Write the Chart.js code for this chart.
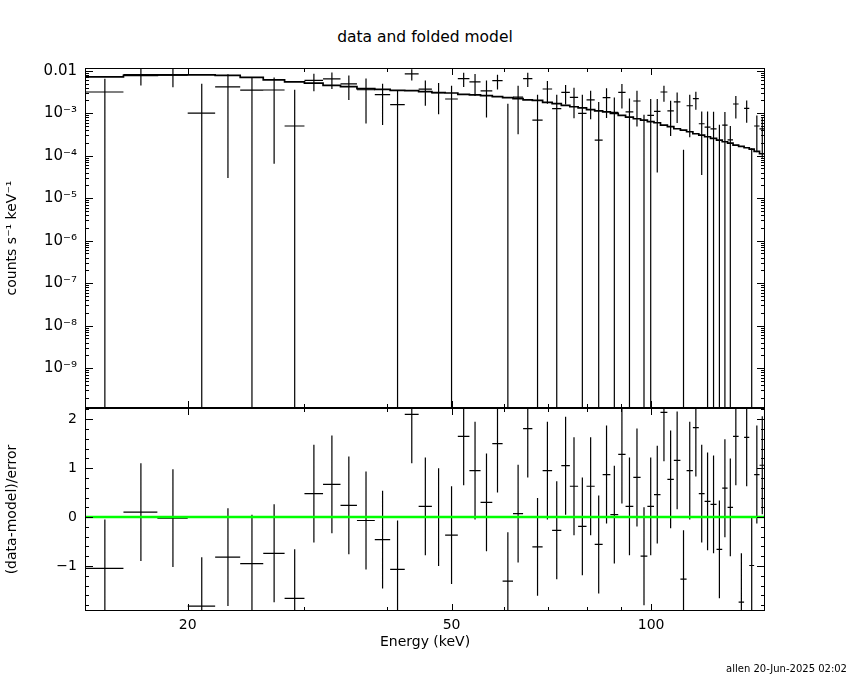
<!DOCTYPE html>
<html>
<head>
<meta charset="utf-8">
<script src="https://cdn.jsdelivr.net/npm/chart.js"></script>
<style>
  body { margin: 0; background: #fff; width: 850px; height: 680px; position: relative; overflow: hidden; font-family: "DejaVu Sans", sans-serif; }
  canvas { position: absolute; left: 0; }
  #top { top: 0; }
  #bot { top: 408px; }
  #title { position: absolute; left: 0; width: 850px; top: 28px; text-align: center; font-size: 15.5px; }
  #stamp { position: absolute; right: 3px; top: 663px; font-size: 10px; }
</style>
</head>
<body>
<div id="title">data and folded model</div>
<canvas id="top" width="850" height="408"></canvas>
<canvas id="bot" width="850" height="272"></canvas>
<div id="stamp">allen 20-Jun-2025 02:02</div>
<script>
// energy bin edges (keV), one more than the number of bins
const binEdges = [14, 16, 18, 20, 22, 24, 26, 28, 30, 32, 34, 36, 38.3, 40.4, 42.5, 44.6, 46.7, 48.9, 51.1, 53.2,
  55.3, 57.6, 59.7, 61.9, 64.1, 66.2, 68.6, 70.9, 73.2, 75.4, 77.6, 79.9, 82.2, 84.5, 86.8, 89.2, 91.5, 94, 96.4,
  98.7, 101, 103.3, 105.8, 108.2, 110.7, 113.1, 115.6, 118, 120.4, 122.9, 125.5, 128, 130.4, 132.9, 135.5, 138.1,
  140.6, 143, 145.7, 148.5];

// counts s^-1 keV^-1
const rate = [3.16e-3, 8.1e-3, 7.9e-3, 1.01e-3, 4.15e-3, 3.5e-3, 3.52e-3, 5.0e-4, 5.9e-3, 6.4e-3,
  4.89e-3, 3.57e-3, 2.73e-3, 1.6e-3, 8.41e-3, 3.7e-3, 3.04e-3, 2.16e-3, 6.52e-3, 5.44e-3,
  3.34e-3, 5.85e-3, -3.8e-4, 2.39e-3, 6.52e-3, 6.9e-4, 3.72e-3, 1.28e-3, 3.1e-3, 2.36e-3,
  9.9e-4, 2.05e-3, 2.33e-4, 2.32e-3, 1.05e-3, 3.1e-3, 1.07e-3, 1.94e-3, -2.37e-4, 8.87e-4,
  1.1e-3, 3.16e-3, 1.13e-3, 1.84e-3, -8.4e-4, 1.5e-3, 2.2e-3, 5.65e-4, 4.73e-4, 4.3e-4,
  -3.54e-4, 5.27e-4, 2.37e-4, 1.65e-3, -3.57e-4, 1.3e-3, -4.51e-4, 5.0e-4, 4.3e-4];

const rateErr = [3.36e-3, 3.6e-3, 3.8e-3, 3.96e-3, 4.12e-3, 3.55e-3, 3.455e-3, 3.08e-3, 2.6e-3, 2.7e-3,
  2.85e-3, 3.0e-3, 2.2e-3, 1.85e-3, 2.5e-3, 2.2e-3, 2.1e-3, 2.3e-3, 2.4e-3, 2.9e-3,
  2.55e-3, 2.25e-3, 2.06e-3, 2.07e-3, 2.4e-3, 2.04e-3, 2.05e-3, 1.45e-3, 1.5e-3, 1.6e-3,
  1.74e-3, 1.33e-3, 1.6e-3, 1.55e-3, 1.3e-3, 1.8e-3, 1.16e-3, 1.45e-3, 1.16e-3, 1.27e-3,
  1.06e-3, 1.3e-3, 8.4e-4, 1.25e-3, 9.78e-4, 1.23e-3, 1.0e-3, 5.3e-4, 6.3e-4, 6.5e-4,
  8.9e-4, 5.4e-4, 2.6e-4, 9.0e-4, 3.0e-4, 7.0e-4, 6.0e-4, 3.8e-4, 3.4e-4];

// folded model
const model = [7.14e-3, 7.79e-3, 7.96e-3, 7.96e-3, 7.79e-3, 6.98e-3, 6.07e-3, 5.44e-3, 5.11e-3, 4.53e-3,
  4.22e-3, 3.78e-3, 3.64e-3, 3.45e-3, 3.40e-3, 3.21e-3, 3.04e-3, 2.99e-3, 2.77e-3, 2.69e-3,
  2.59e-3, 2.45e-3, 2.32e-3, 2.20e-3, 2.05e-3, 2.00e-3, 1.80e-3, 1.68e-3, 1.53e-3, 1.42e-3,
  1.33e-3, 1.21e-3, 1.13e-3, 1.07e-3, 9.89e-4, 8.87e-4, 8.13e-4, 7.41e-4, 6.91e-4, 6.31e-4,
  5.97e-4, 5.27e-4, 4.81e-4, 4.31e-4, 4.02e-4, 3.66e-4, 3.29e-4, 3.06e-4, 2.79e-4, 2.55e-4,
  2.33e-4, 2.13e-4, 1.98e-4, 1.78e-4, 1.65e-4, 1.54e-4, 1.43e-4, 1.26e-4, 1.11e-4];

// (data-model)/error, each with an error of 1
const resid = [-1.05, 0.10, -0.02, -1.82, -0.82, -0.95, -0.74, -1.66, 0.48, 0.67,
  0.24, -0.07, -0.46, -1.07, 2.10, 0.22, 0.00, -0.37, 1.65, 0.95,
  0.30, 1.50, -1.31, 0.07, 1.81, -0.61, 0.95, -0.27, 1.05, 0.63,
  -0.19, 0.63, -0.56, 0.87, 0.05, 1.28, 0.22, 0.81, -0.80, 0.22,
  0.46, 2.14, 0.77, 1.16, -1.27, 0.95, 1.83, 0.48, 0.32, 0.26,
  -0.66, 0.59, 0.20, 1.65, -1.74, 1.63, -0.99, 0.87, 1.06];
const RES_ERR = 1;

const xTickVals = [20, 50, 100];
const xTickLabels = ['20', '50', '100'];
const xMinor = [30, 40, 60, 70, 80, 90];
const yTickVals = [1e-9, 1e-8, 1e-7, 1e-6, 1e-5, 1e-4, 1e-3, 1e-2];
const yTickLabels = ['10\u207B\u2079', '10\u207B\u2078', '10\u207B\u2077', '10\u207B\u2076', '10\u207B\u2075', '10\u207B\u2074', '10\u207B\u00B3', '0.01'];
const rTickVals = [-1, 0, 1, 2];
const rTickLabels = ['\u22121', '0', '1', '2'];

const X_MIN = 14, X_MAX = 148.5;
const Y_MIN = 1.15e-10, Y_MAX = 0.0116;
const R_MIN = -1.92, R_MAX = 2.23;
const LOG_FLOOR = 1e-11;

Chart.defaults.font.family = '"DejaVu Sans", sans-serif';
Chart.defaults.font.size = 14;
Chart.defaults.color = '#000';

// build segment lists (null breaks the line)
const modelPts = [], rateX = [], rateY = [], resX = [], resY = [];
for (let i = 0; i < rate.length; i++) {
  const lo = binEdges[i], hi = binEdges[i + 1], mid = (lo + hi) / 2;
  modelPts.push({x: lo, y: model[i]}, {x: hi, y: model[i]});
  if (rate[i] > 0) rateX.push({x: lo, y: rate[i]}, {x: hi, y: rate[i]}, {x: hi, y: null});
  const up = rate[i] + rateErr[i], dn = rate[i] - rateErr[i];
  if (up > 0) rateY.push({x: mid, y: dn > 0 ? dn : LOG_FLOOR}, {x: mid, y: up}, {x: mid, y: null});
  resX.push({x: lo, y: resid[i]}, {x: hi, y: resid[i]}, {x: hi, y: null});
  resY.push({x: mid, y: resid[i] - RES_ERR}, {x: mid, y: resid[i] + RES_ERR}, {x: mid, y: null});
}

// frame and inward ticks on all four sides, like PGPLOT
const frame = {
  id: 'frame',
  afterDatasetsDraw(chart, args, opts) {
    const {ctx, chartArea: a, scales} = chart;
    ctx.save();
    ctx.strokeStyle = '#000';
    ctx.lineWidth = 1;
    ctx.strokeRect(a.left + 0.5, a.top + 0.5, a.right - a.left - 1, a.bottom - a.top - 1);
    const seg = (x1, y1, x2, y2) => { ctx.beginPath(); ctx.moveTo(x1, y1); ctx.lineTo(x2, y2); ctx.stroke(); };
    for (const [v, len] of opts.xTicks) {
      const px = Math.round(scales.x.getPixelForValue(v)) + 0.5;
      seg(px, a.top, px, a.top + len);
      seg(px, a.bottom, px, a.bottom - len);
    }
    for (const [v, len] of opts.yTicks) {
      const py = Math.round(scales.y.getPixelForValue(v)) + 0.5;
      seg(a.left, py, a.left + len, py);
      seg(a.right, py, a.right - len, py);
    }
    ctx.restore();
  }
};

const xTickMarks = xTickVals.map(v => [v, 7]).concat(xMinor.map(v => [v, 4]));

const logMarks = [];
for (let e = -10; e <= -2; e++) {
  for (let k = 1; k <= 9; k++) {
    const v = k * Math.pow(10, e);
    if (v >= Y_MIN && v <= Y_MAX) logMarks.push([v, k === 1 ? 8 : 4]);
  }
}
const linMarks = [];
for (let k = -9; k <= 11; k++) {
  linMarks.push([k / 5, k % 5 === 0 ? 8 : 4]);
}

const lineSet = (data, color, width) => ({
  data: data, showLine: true, borderColor: color, borderWidth: width,
  pointRadius: 0, spanGaps: false, fill: false
});

const commonPlugins = { legend: { display: false }, tooltip: { enabled: false } };

// fixed box sizes so that both panels line up exactly
const fixWidth = s => { s.width = 85; s.paddingTop = 0; s.paddingBottom = 0; };
const fixHeight = s => { s.height = 69; s.paddingLeft = 0; s.paddingRight = 0; };

new Chart(document.getElementById('top'), {
  type: 'scatter',
  data: {
    datasets: [
      lineSet(rateX, '#000', 1.2),
      lineSet(rateY, '#000', 1.2),
      lineSet(modelPts, '#000', 1.7)
    ]
  },
  options: {
    responsive: false,
    animation: false,
    events: [],
    layout: { padding: { top: 68, right: 85, bottom: 0, left: 0 } },
    plugins: Object.assign({ frame: { xTicks: xTickMarks, yTicks: logMarks } }, commonPlugins),
    scales: {
      x: { type: 'logarithmic', min: X_MIN, max: X_MAX, display: false },
      y: {
        type: 'logarithmic', min: Y_MIN, max: Y_MAX,
        afterFit: fixWidth,
        afterBuildTicks: s => { s.ticks = yTickVals.map(v => ({ value: v })); },
        grid: { display: false, drawTicks: false },
        border: { display: false },
        ticks: { padding: 8, autoSkip: false, font: { size: 15 }, callback: v => yTickLabels[yTickVals.indexOf(v)] },
        title: { display: true, text: 'counts s\u207B\u00B9 keV\u207B\u00B9' }
      }
    }
  },
  plugins: [frame]
});

new Chart(document.getElementById('bot'), {
  type: 'scatter',
  data: {
    datasets: [
      lineSet([{ x: X_MIN, y: 0 }, { x: X_MAX, y: 0 }], '#00ff00', 2.5),
      lineSet(resX, '#000', 1.2),
      lineSet(resY, '#000', 1.2)
    ]
  },
  options: {
    responsive: false,
    animation: false,
    events: [],
    layout: { padding: { top: 0, right: 85, bottom: 0, left: 0 } },
    plugins: Object.assign({ frame: { xTicks: xTickMarks, yTicks: linMarks } }, commonPlugins),
    scales: {
      x: {
        type: 'logarithmic', min: X_MIN, max: X_MAX,
        afterFit: fixHeight,
        afterBuildTicks: s => { s.ticks = xTickVals.map(v => ({ value: v })); },
        grid: { display: false, drawTicks: false },
        border: { display: false },
        ticks: { padding: 6, autoSkip: false, maxRotation: 0, callback: v => xTickLabels[xTickVals.indexOf(v)] },
        title: { display: true, text: 'Energy (keV)', padding: { top: 0, bottom: 29 } }
      },
      y: {
        type: 'linear', min: R_MIN, max: R_MAX,
        afterFit: fixWidth,
        afterBuildTicks: s => { s.ticks = rTickVals.map(v => ({ value: v })); },
        grid: { display: false, drawTicks: false },
        border: { display: false },
        ticks: { padding: 8, autoSkip: false, callback: v => rTickLabels[rTickVals.indexOf(v)] },
        title: { display: true, text: '(data-model)/error' }
      }
    }
  },
  plugins: [frame]
});
</script>
</body>
</html>
